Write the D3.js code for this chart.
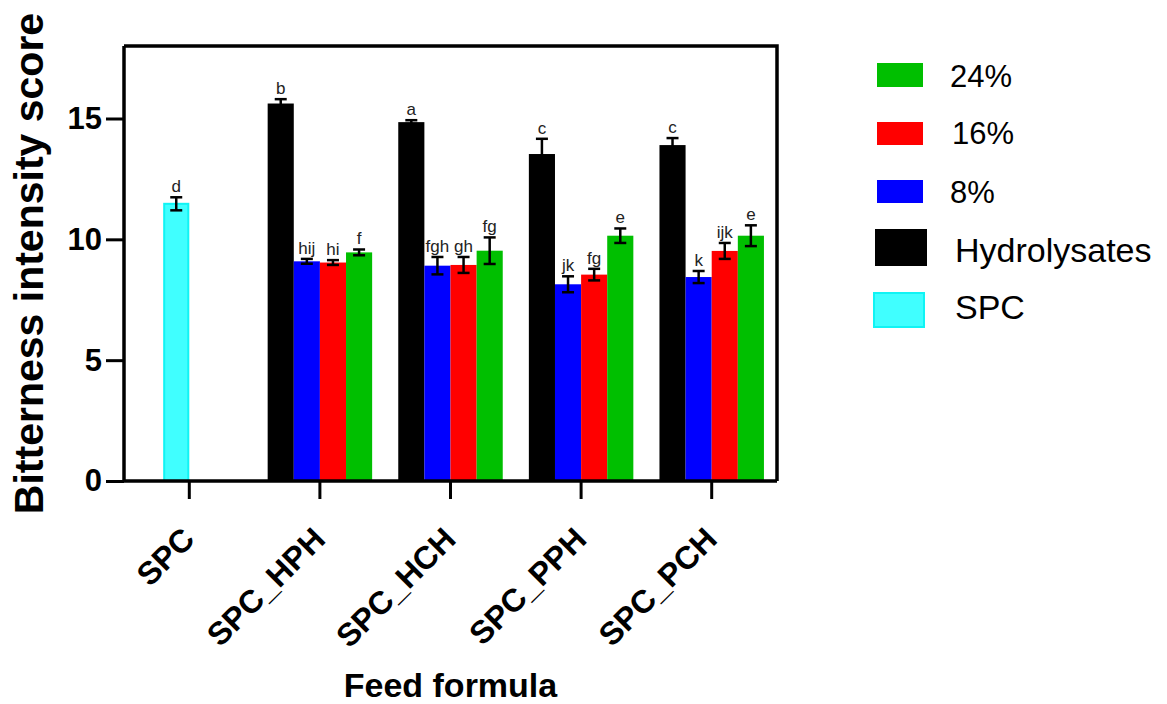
<!DOCTYPE html>
<html>
<head>
<meta charset="utf-8">
<script src="https://cdn.jsdelivr.net/npm/d3@7"></script>
<style>
  html, body { margin: 0; padding: 0; background: #fff; }
  svg { display: block; font-family: Arial, "Liberation Sans", Helvetica, sans-serif; }
</style>
</head>
<body>
<svg id="chart" width="1167" height="704"></svg>
<script>
// Feed formulas on the x axis
const groups = ["SPC", "SPC_HPH", "SPC_HCH", "SPC_PPH", "SPC_PCH"];

// Control diet (SPC alone)
const spcMean = 11.47;
const spcErr = 0.27;
const spcLetter = "d";

// Series within each hydrolysate formula
const seriesNames = ["Hydrolysates", "8%", "16%", "24%"];
const seriesColors = ["#000000", "#0000ff", "#ff0000", "#00bf00"];

const hydrolysatesMean = [15.62, 14.85, 13.53, 13.90];
const hydrolysatesErr  = [0.18, 0.08, 0.63, 0.29];
const hydrolysatesLetters = ["b", "a", "c", "c"];

const pct8Mean = [9.09, 8.91, 8.14, 8.44];
const pct8Err  = [0.10, 0.36, 0.33, 0.25];
const pct8Letters = ["hij", "fgh", "jk", "k"];

const pct16Mean = [9.04, 8.94, 8.54, 9.52];
const pct16Err  = [0.10, 0.33, 0.24, 0.33];
const pct16Letters = ["hi", "gh", "fg", "ijk"];

const pct24Mean = [9.46, 9.53, 10.15, 10.15];
const pct24Err  = [0.12, 0.55, 0.30, 0.43];
const pct24Letters = ["f", "fg", "e", "e"];

const yTicks = [0, 5, 10, 15];

// Legend order (top to bottom)
const legendNames = ["24%", "16%", "8%", "Hydrolysates", "SPC"];
const legendColors = ["#00bf00", "#ff0000", "#0000ff", "#000000", "#40ffff"];

const svg = d3.select("#chart");
const plotLeft = 124, plotRight = 777, plotTop = 46, plotBottom = 481;

const x = d3.scaleBand().domain(groups).range([plotLeft, plotRight]).padding(0);
const y = d3.scaleLinear().domain([0, 18]).range([plotBottom, plotTop]);
const barW = x.bandwidth() / 5;
// four slots per formula, centred on the tick
const slot = d3.scaleBand().domain(d3.range(4)).range([-2 * barW, 2 * barW]).padding(0);

// assemble bars
const bars = [];
bars.push({ group: "SPC", slotIdx: 1, mean: spcMean, err: spcErr, letter: spcLetter, fill: "#40ffff", stroke: "#10f4f4" });
const seriesData = [
  [hydrolysatesMean, hydrolysatesErr, hydrolysatesLetters],
  [pct8Mean, pct8Err, pct8Letters],
  [pct16Mean, pct16Err, pct16Letters],
  [pct24Mean, pct24Err, pct24Letters]
];
seriesData.forEach(([m, e, l], s) => {
  m.forEach((v, i) => {
    bars.push({ group: groups[i + 1], slotIdx: s, mean: v, err: e[i], letter: l[i], fill: seriesColors[s], stroke: null });
  });
});

const bx = d => x(d.group) + x.bandwidth() / 2 + slot(d.slotIdx);

// bars
svg.append("g").selectAll("rect").data(bars).join("rect")
  .attr("x", d => bx(d) + (d.stroke ? 1 : 0))
  .attr("y", d => y(d.mean))
  .attr("width", d => barW - (d.stroke ? 2 : 0))
  .attr("height", d => y(0) - y(d.mean))
  .attr("fill", d => d.fill)
  .attr("stroke", d => d.stroke)
  .attr("stroke-width", d => d.stroke ? 2 : 0);

// error bars
const eb = svg.append("g").attr("stroke", "#000").attr("stroke-width", 2.5).attr("fill", "none");
const capW = 6;
bars.forEach(d => {
  const cx = bx(d) + barW / 2;
  const y1 = y(d.mean + d.err), y0 = y(d.mean - d.err);
  eb.append("line").attr("x1", cx).attr("x2", cx).attr("y1", y1).attr("y2", y0);
  eb.append("line").attr("x1", cx - capW).attr("x2", cx + capW).attr("y1", y1).attr("y2", y1);
  eb.append("line").attr("x1", cx - capW).attr("x2", cx + capW).attr("y1", y0).attr("y2", y0);
});

// significance letters
svg.append("g").selectAll("text").data(bars).join("text")
  .attr("x", d => bx(d) + barW / 2)
  .attr("y", d => y(d.mean + d.err) - 5)
  .attr("text-anchor", "middle")
  .attr("font-size", 17)
  .attr("fill", "#222")
  .text(d => d.letter);

// frame: top and right edges
svg.append("path")
  .attr("d", `M${plotLeft},${plotTop}H${plotRight}V${plotBottom}`)
  .attr("fill", "none").attr("stroke", "#000").attr("stroke-width", 3.5);

// y axis
const yAxis = svg.append("g").attr("transform", `translate(${plotLeft},0)`)
  .call(d3.axisLeft(y).tickValues(yTicks).tickSize(18).tickPadding(4).tickFormat(d3.format("d")));
yAxis.select(".domain").attr("stroke-width", 3.5).attr("d", `M0,${plotTop}V${plotBottom}`);
yAxis.selectAll(".tick line").attr("stroke-width", 3);
yAxis.selectAll(".tick text")
  .attr("font-size", 31).attr("font-weight", "bold").attr("fill", "#000")
  .attr("font-family", "Arial, 'Liberation Sans', sans-serif");

// x axis
const xAxis = svg.append("g").attr("transform", `translate(0,${plotBottom})`)
  .call(d3.axisBottom(x).tickSize(18).tickFormat(""));
xAxis.select(".domain").attr("stroke-width", 3.5).attr("d", `M${plotLeft},0H${plotRight}`);
xAxis.selectAll(".tick line").attr("stroke-width", 3);

// rotated category labels
svg.append("g").selectAll("text").data(groups).join("text")
  .attr("transform", d => `translate(${x(d) + x.bandwidth() / 2 - 1},${plotBottom + 52}) rotate(-45)`)
  .attr("text-anchor", "end")
  .attr("dy", "0.36em")
  .attr("font-size", 32)
  .attr("font-weight", "bold")
  .text(d => d);

// axis titles
svg.append("text")
  .attr("transform", `translate(43,${(plotTop + plotBottom) / 2}) rotate(-90)`)
  .attr("text-anchor", "middle")
  .attr("font-size", 41)
  .attr("font-weight", "bold")
  .text("Bitterness intensity score");

svg.append("text")
  .attr("x", (plotLeft + plotRight) / 2)
  .attr("y", 697)
  .attr("text-anchor", "middle")
  .attr("font-size", 34)
  .attr("font-weight", "bold")
  .text("Feed formula");

// legend
const legendRows = [
  { sx: 877, sy: 63, sw: 46, sh: 24, tx: 950, ty: 87, fs: 31 },
  { sx: 877, sy: 122, sw: 46, sh: 23, tx: 952, ty: 144, fs: 31 },
  { sx: 877, sy: 180, sw: 46, sh: 23, tx: 950, ty: 203, fs: 31 },
  { sx: 875, sy: 229, sw: 52, sh: 37, tx: 955, ty: 262, fs: 34 },
  { sx: 874, sy: 293, sw: 50, sh: 34, tx: 955, ty: 319, fs: 34 }
];
const lg = svg.append("g");
legendNames.forEach((name, i) => {
  const r = legendRows[i];
  lg.append("rect")
    .attr("x", r.sx).attr("y", r.sy).attr("width", r.sw).attr("height", r.sh)
    .attr("fill", legendColors[i])
    .attr("stroke", name === "SPC" ? "#10f4f4" : "none")
    .attr("stroke-width", name === "SPC" ? 2 : 0);
  lg.append("text")
    .attr("x", r.tx).attr("y", r.ty)
    .attr("font-size", r.fs)
    .attr("fill", "#000")
    .text(name);
});
</script>
</body>
</html>
